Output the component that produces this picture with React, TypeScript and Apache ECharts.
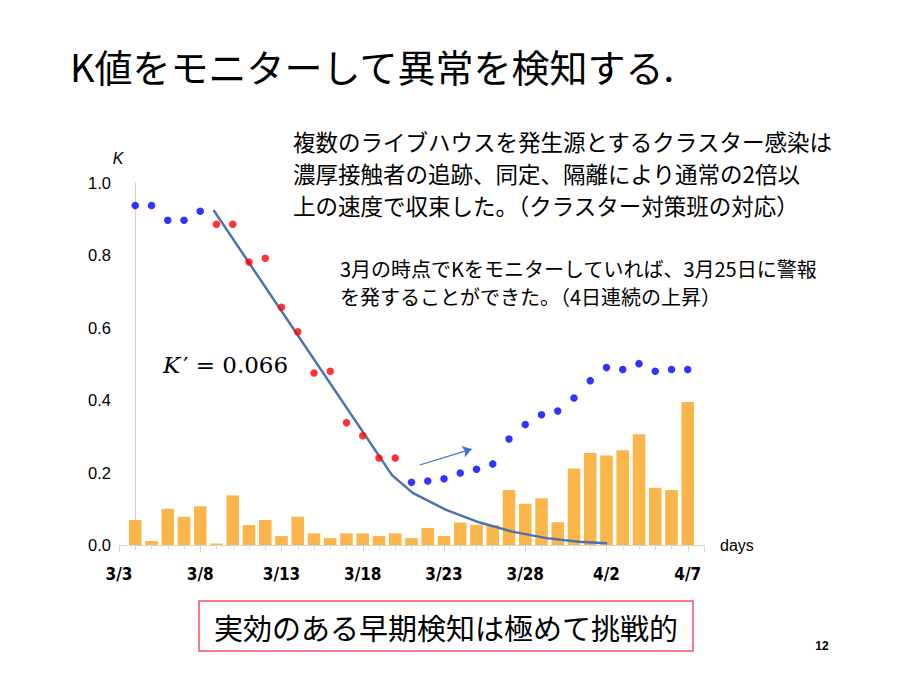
import React, { useEffect, useRef } from "react";
import * as echarts from "echarts";

// Day index 0 = 3/4 ... 34 = 4/7 ; tick labels every 5 days starting at index -1 (3/3)
const xTickLabels = ["3/3", "3/8", "3/13", "3/18", "3/23", "3/28", "4/2", "4/7"];
const yTickLabels = ["0.0", "0.2", "0.4", "0.6", "0.8", "1.0"];

// K values (dots)
const kValues = [
  0.938, 0.938, 0.897, 0.897, 0.922, 0.886, 0.886, 0.782, 0.792, 0.657, 0.589, 0.475,
  0.48, 0.338, 0.302, 0.24, 0.24, 0.173, 0.177, 0.183, 0.199, 0.209, 0.224, 0.293,
  0.333, 0.36, 0.37, 0.406, 0.454, 0.49, 0.485, 0.501, 0.48, 0.485, 0.485,
];
// index range of the red (decline) phase
const redStart = 5;
const redEnd = 16;

// Bars (daily values)
const barValues = [
  0.069, 0.011, 0.1, 0.078, 0.107, 0.004, 0.137, 0.055, 0.069, 0.025, 0.078, 0.032,
  0.019, 0.032, 0.032, 0.025, 0.032, 0.019, 0.047, 0.025, 0.062, 0.056, 0.055, 0.152,
  0.114, 0.129, 0.063, 0.211, 0.254, 0.247, 0.262, 0.306, 0.158, 0.152, 0.395,
];

// Fitted curve
const fitX = [4.82, 15.8, 17.07, 19.13, 21.2, 23.2, 25.3, 27.3, 29.04];
const fitY = [0.925, 0.193, 0.144, 0.097, 0.062, 0.037, 0.019, 0.009, 0.005];

// Arrow
const arrowFrom = [17.5, 0.221];
const arrowTo = [20.7, 0.265];

const titleText = "K値をモニターして異常を検知する.";
const note1 = [
  "複数のライブハウスを発生源とするクラスター感染は",
  "濃厚接触者の追跡、同定、隔離により通常の2倍以",
  "上の速度で収束した。（クラスター対策班の対応）",
];
const note2 = [
  "3月の時点でKをモニターしていれば、3月25日に警報",
  "を発することができた。（4日連続の上昇）",
];
const boxText = "実効のある早期検知は極めて挑戦的";
const pageNo = "12";
const yName = "K";

const JP = "'Noto Sans CJK JP', 'Noto Sans', sans-serif";
const SANS = "'Liberation Sans', Arial, sans-serif";
const SERIF = "'DejaVu Serif', 'Liberation Serif', serif";

export default function App() {
  const ref = useRef<HTMLDivElement>(null);
  useEffect(() => {
    if (!ref.current) return;
    const chart = echarts.init(ref.current, null, { renderer: "svg" });
    const blue: number[][] = [];
    const red: number[][] = [];
    kValues.forEach((v, i) => {
      if (i >= redStart && i <= redEnd) red.push([i, v]);
      else blue.push([i, v]);
    });
    const noteLines: any[] = [];
    note1.forEach((t, i) => {
      noteLines.push({
        type: "text",
        x: 293,
        y: 141 + i * 32,
        style: { text: t, fontSize: 22.5, fontFamily: JP, fill: "#000", verticalAlign: "middle" },
      });
    });
    note2.forEach((t, i) => {
      noteLines.push({
        type: "text",
        x: 340,
        y: 268 + i * 28.5,
        style: { text: t, fontSize: 20, fontFamily: JP, fill: "#000", verticalAlign: "middle" },
      });
    });
    const option: any = {
      animation: false,
      backgroundColor: "#ffffff",
      grid: { left: 119, right: 196, top: 183, bottom: 130 },
      xAxis: {
        type: "value",
        min: -1,
        max: 35,
        interval: 5,
        name: "days",
        nameLocation: "end",
        nameGap: 16,
        nameTextStyle: { fontSize: 16, color: "#000", fontFamily: SANS, verticalAlign: "middle" },
        axisLine: { show: true, lineStyle: { color: "#d4d4d4", width: 1 } },
        axisTick: { show: true, length: 7, lineStyle: { color: "#d4d4d4" } },
        minorTick: { show: true, splitNumber: 5, length: 5, lineStyle: { color: "#dcdcdc" } },
        splitLine: { show: false },
        axisLabel: {
          margin: 20,
          fontSize: 17,
          fontWeight: "bold",
          color: "#000",
          fontFamily: "'Liberation Sans Narrow', 'DejaVu Sans Condensed', sans-serif",
          showMaxLabel: false,
          formatter: (v: number) => {
            const idx = (v + 1) / 5;
            return Number.isInteger(idx) && xTickLabels[idx] ? xTickLabels[idx] : "";
          },
        },
      },
      yAxis: {
        type: "value",
        min: 0,
        max: 1,
        interval: 0.2,
        axisLine: { show: true, lineStyle: { color: "#d4d4d4", width: 1 } },
        axisTick: { show: false },
        minorTick: { show: false },
        splitLine: { show: false },
        axisLabel: {
          fontSize: 16.5,
          color: "#000",
          margin: 8,
          fontFamily: SANS,
          formatter: (v: number) => yTickLabels[Math.round(v / 0.2)] ?? "",
        },
      },
      series: [
        {
          type: "bar",
          data: barValues.map((v, i) => [i, v]),
          barWidth: 12.6,
          itemStyle: { color: "#FAB64B" },
          z: 1,
        },
        {
          type: "line",
          data: fitX.map((x, i) => [x, fitY[i]]),
          showSymbol: false,
          symbol: "none",
          smooth: false,
          lineStyle: { color: "#4A72B2", width: 2.5 },
          z: 2,
          markLine: {
            silent: true,
            symbol: ["none", "arrow"],
            symbolSize: 9,
            label: { show: false },
            lineStyle: { color: "#4472C4", width: 1.3, type: "solid" },
            data: [[{ coord: arrowFrom }, { coord: arrowTo }]],
          },
        },
        {
          type: "scatter",
          data: blue,
          symbolSize: 7.5,
          itemStyle: { color: "#0000FF" },
          z: 3,
        },
        {
          type: "scatter",
          data: red,
          symbolSize: 7.5,
          itemStyle: { color: "#FF0000" },
          z: 3,
        },
      ],
      graphic: [
        {
          type: "text",
          left: 70,
          top: 46,
          style: { text: titleText, fontSize: 38, fontFamily: JP, fill: "#000" },
        },
        ...noteLines,
        {
          type: "text",
          x: 118,
          y: 158,
          style: {
            text: yName,
            fontSize: 16,
            fontStyle: "italic",
            fontFamily: SANS,
            fill: "#000",
            align: "center",
            verticalAlign: "middle",
          },
        },
        {
          type: "text",
          left: 163,
          top: 353,
          style: {
            text: "{k|K}{r|′ = 0.066}",
            rich: {
              k: { fontSize: 23, fontStyle: "italic", fontFamily: SERIF, fill: "#000", padding: [0, 3, 0, 0] },
              r: { fontSize: 23, fontFamily: SERIF, fill: "#000" },
            },
          },
        },
        {
          type: "rect",
          shape: { x: 199, y: 601, width: 494, height: 50 },
          style: { fill: "#fff", stroke: "#F0506A", lineWidth: 1.5 },
        },
        {
          type: "text",
          x: 446,
          y: 627,
          style: {
            text: boxText,
            fontSize: 29,
            fontFamily: JP,
            fill: "#000",
            align: "center",
            verticalAlign: "middle",
          },
        },
        {
          type: "text",
          x: 822,
          y: 646,
          style: {
            text: pageNo,
            fontSize: 12,
            fontWeight: "bold",
            fontFamily: SANS,
            fill: "#000",
            align: "center",
            verticalAlign: "middle",
          },
        },
      ],
    };
    chart.setOption(option);
    return () => chart.dispose();
  }, []);
  return (
    <div
      ref={ref}
      style={{ position: "fixed", left: 0, top: 0, width: 900, height: 675, background: "#fff" }}
    />
  );
}
